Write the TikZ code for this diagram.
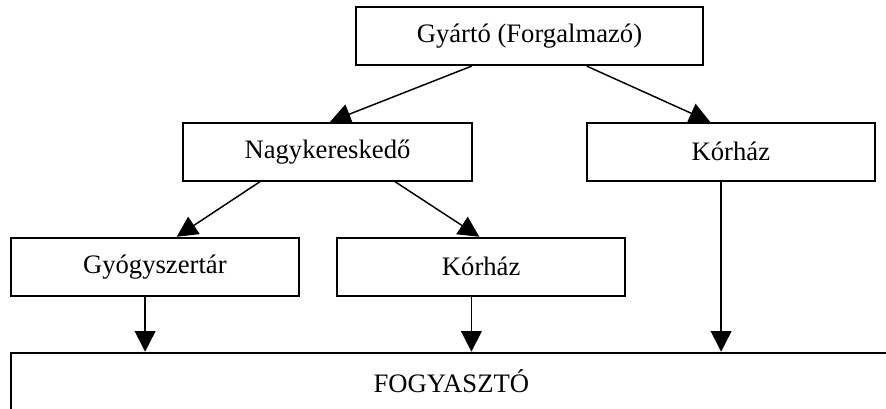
\documentclass[tikz,border=0pt]{standalone}
\usepackage{fontspec}
\setmainfont{Liberation Serif}
\usetikzlibrary{arrows.meta}

\tikzset{
  box/.style={draw, line width=1.4pt, inner sep=0pt, minimum width=216.2pt,
    minimum height=43.5pt, font=\fontsize{20}{24}\selectfont},
  flow/.style={line width=1.1pt, -{Triangle[length=15.5pt,width=15.5pt]}}
}

\begin{document}
\begin{tikzpicture}[x=0.75pt, y=-0.75pt]
  \useasboundingbox (0,0) rectangle (886,408);
  \clip (0,0) rectangle (886,408);

  % supply chain levels
  \node[box, minimum width=260.25pt] (top) at (529.5,36.15) {Gyártó (Forgalmazó)};
  \node[box] (nagy)    at (327.5,151.7)  {Nagykereskedő};
  \node[box] (korhazA) at (730.85,151.7) {Kórház};
  \node[box] (gyogy)   at (154.85,266.7) {Gyógyszertár};
  \node[box] (korhazB) at (481.15,266.7) {Kórház};
  \node[box, minimum width=661pt, minimum height=43pt] (fogy) at (451.35,381.35) {FOGYASZTÓ};

  % distribution arrows
  \draw[flow] ([xshift=-43.35pt]top.south) -- ([xshift=1.9pt]nagy.north);
  \draw[flow] ([xshift=42.9pt]top.south) -- ([xshift=-15.6pt]korhazA.north);
  \draw[flow] ([xshift=-50.6pt]nagy.south) -- ([xshift=16.4pt]gyogy.north);
  \draw[flow] ([xshift=50.6pt]nagy.south) -- ([xshift=-1.4pt]korhazB.north);

  % deliveries to the consumer
  \draw[flow] ([xshift=-7.3pt]gyogy.south) -- ([xshift=-7.3pt]gyogy.south |- fogy.north);
  \draw[flow] ([xshift=-7.3pt]korhazB.south) -- ([xshift=-7.3pt]korhazB.south |- fogy.north);
  \draw[flow] ([xshift=-7.3pt]korhazA.south) -- ([xshift=-7.3pt]korhazA.south |- fogy.north);
\end{tikzpicture}
\end{document}
